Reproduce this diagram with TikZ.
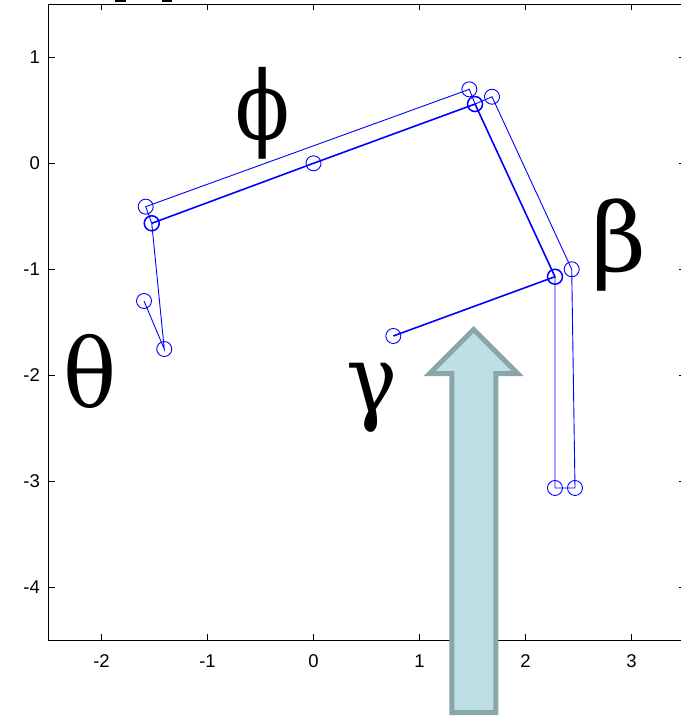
\documentclass[tikz,border=0pt]{standalone}
\usepackage{fontspec}
\setmainfont{Liberation Sans}
\newfontfamily\greekfont{DejaVu Serif}
\definecolor{arrowfill}{HTML}{BCE0E3}
\definecolor{arrowedge}{HTML}{8BA6A8}
\definecolor{plotblue}{RGB}{0,0,255}
\newcommand{\gsym}[2]{\scalebox{#1}[1]{\greekfont\fontsize{95}{95}\selectfont #2}}
\begin{document}
\begin{tikzpicture}[x=1pt,y=-1pt,
  mk/.style={circle, draw=plotblue, line width=0.9pt, minimum size=15pt, inner sep=0pt},
  mkb/.style={mk, line width=1.5pt},
  thinl/.style={draw=plotblue, line width=0.9pt},
  thickl/.style={draw=plotblue, line width=1.6pt},
  axisline/.style={draw=black, line width=1.1pt},
  ticklbl/.style={font=\fontsize{18.5}{18.5}\selectfont, inner sep=0pt},
  greek/.style={inner sep=0pt},
  bigarrow/.style={fill=arrowfill, draw=arrowedge, line width=5pt, line join=miter}
]
\useasboundingbox (0,0) rectangle (681,716);
\fill[white] (0,0) rectangle (681,716);

% fragments of cut-off title
\fill[black] (115,0) rectangle (126,1.8);
\fill[black] (162,0) rectangle (172,1.8);

\begin{scope}[shift={(313.5pt,-163.3pt)}, x=106pt, y=106pt]
  % axes box
  \draw[axisline] (-2.5,-4.5) rectangle (3.5,1.5);
  \foreach \t in {-2,...,3} {
    \draw[axisline, line width=0.9pt] (\t,-4.5) -- ++(0pt,6pt);
    \draw[axisline, line width=0.9pt] (\t,1.5) -- ++(0pt,-6pt);
    \node[ticklbl] (xl\t) at ([yshift=-497.7pt]\t,0) {\t};
  }
  \foreach \t in {-4,...,1} {
    \draw[axisline, line width=0.9pt] (-2.5,\t) -- ++(6pt,0pt);
    \draw[axisline, line width=0.9pt] (3.5,\t) -- ++(-6pt,0pt);
    \node[ticklbl, anchor=east] (yl\t) at ([xshift=-8.5pt]-2.5,\t) {\t};
  }

  % markers
  \node[mkb] (A1) at (-1.526,-0.566) {};
  \node[mk]  (A0) at (0,0) {};
  \node[mkb] (A2) at (1.524,0.559) {};
  \node[mkb] (A3) at (2.278,-1.070) {};
  \node[mk]  (A4) at (0.753,-1.629) {};
  \node[mk]  (B1) at (-1.583,-0.409) {};
  \node[mk]  (B2) at (1.470,0.698) {};
  \node[mk]  (B3) at (1.684,0.628) {};
  \node[mk]  (B4) at (2.436,-1.000) {};
  \node[mk]  (B5) at (2.467,-3.063) {};
  \node[mk]  (B6) at (2.278,-3.063) {};
  \node[mk]  (C1) at (-1.408,-1.752) {};
  \node[mk]  (C2) at (-1.599,-1.299) {};

  % thick chain
  \draw[thickl] (A1.center) -- (A0.center) -- (A2.center) -- (A3.center) -- (A4.center);
  % thin chain
  \draw[thinl] (A1.center) -- (B1.center) -- (B2.center) -- (A2.center) -- (B3.center)
     -- (B4.center) -- (B5.center) -- (B6.center) -- (A3.center);
  \draw[thinl] (A1.center) -- (C1.center) -- (C2.center);
\end{scope}

% Greek labels
\node[greek] (phi)   at (262.5,113) {\gsym{0.84}{ϕ}};
\node[greek] (beta)  at (618.5,245) {\gsym{1.0}{β}};
\node[greek] (theta) at (90.5,371) {\gsym{0.93}{θ}};
\node[greek] (gamma) at (372.5,397.5) {\gsym{0.9}{γ}};

% big arrow
\draw[bigarrow] (473.7,329.5) -- (517.7,373.5) -- (495.8,373.5) -- (495.8,712.5)
  -- (451.8,712.5) -- (451.8,373.5) -- (429.7,373.5) -- cycle;
\end{tikzpicture}
\end{document}
